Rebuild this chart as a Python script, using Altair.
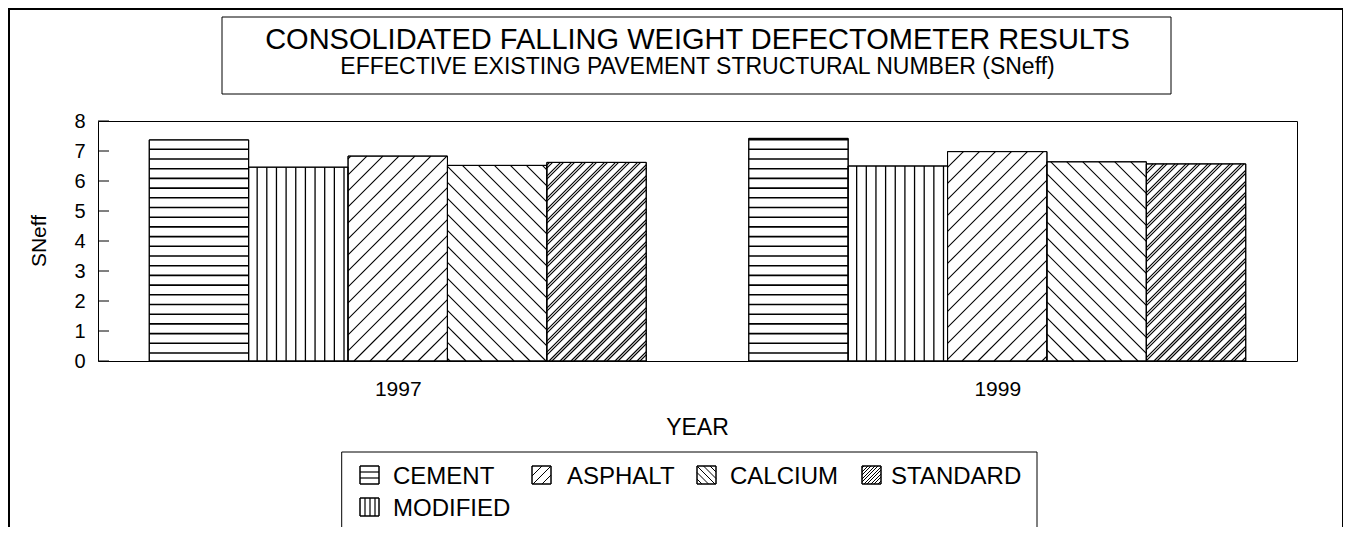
import math
import altair as alt
import pandas as pd

# ---------------- data ----------------
years = ["1997", "1999"]
materials = ["CEMENT", "MODIFIED", "ASPHALT", "CALCIUM", "STANDARD"]
sneff_1997 = [7.37, 6.46, 6.83, 6.52, 6.62]
sneff_1999 = [7.42, 6.50, 6.98, 6.64, 6.57]
y_tick_values = [0, 1, 2, 3, 4, 5, 6, 7, 8]
legend_labels = ["CEMENT", "ASPHALT", "CALCIUM", "STANDARD", "MODIFIED"]
title_text = "CONSOLIDATED FALLING WEIGHT DEFECTOMETER RESULTS"
subtitle_text = "EFFECTIVE EXISTING PAVEMENT STRUCTURAL NUMBER (SNeff)"
x_title = "YEAR"
y_title = "SNeff"

# ---------------- layout ----------------
PLOT_W, PLOT_H = 1199, 240
Y_MAX = 8
X_MAX = len(years)
PXX = PLOT_W / X_MAX
PXY = PLOT_H / Y_MAX
GROUP_W = 0.829
BAR_W = GROUP_W / len(materials)
ORIGIN_X, ORIGIN_Y = 98, 121  # page position of plot area

# pattern: kind, spacing(px), phase(px), stroke width
BAR_PATTERN = {
    "CEMENT": ("h", 9.7, 8.0, 1.6),
    "MODIFIED": ("v", 9.65, 8.5, 1.3),
    "ASPHALT": ("up", 16.0, 0.0, 1.1),
    "CALCIUM": ("down", 16.0, 0.0, 1.1),
    "STANDARD": ("up2", 11.0, 0.0, 1.1),
}
SWATCH_PATTERN = {
    "CEMENT": ("h", 6.0, 6.0, 1.2),
    "MODIFIED": ("v", 5.0, 5.0, 1.2),
    "ASPHALT": ("up", 9.0, 0.0, 1.0),
    "CALCIUM": ("down", 6.5, 0.0, 1.0),
    "STANDARD": ("up2", 7.0, 0.0, 1.0),
}
LEG_SW = [(360, 466), (532, 466), (697, 466), (862, 466), (360, 498)]
LEG_TX = [(393, 483.6), (567, 483.6), (730, 483.6), (891, 483.6), (393, 515.6)]
SW_W, SW_H = 19, 18


def hatch(x0, x1, y0, y1, kind, s, ph):
    segs = []
    if kind == "h":
        t = y0 + ph
        while t < y1 - 0.5:
            segs.append((x0, t, x1, t))
            t += s
    elif kind == "v":
        t = x0 + ph
        while t < x1 - 0.5:
            segs.append((t, y0, t, y1))
            t += s
    elif kind in ("up", "up2"):
        offs = [0.0] if kind == "up" else [0.0, 3.0]
        for o in offs:
            cmin, cmax = x0 - y1, x1 - y0
            c = ph + o + math.ceil((cmin - ph - o) / s) * s
            while c < cmax:
                xs = max(x0, y0 + c)
                xe = min(x1, y1 + c)
                if xe - xs > 0.3:
                    segs.append((xs, xs - c, xe, xe - c))
                c += s
    elif kind == "down":
        cmin, cmax = x0 + y0, x1 + y1
        c = ph + math.ceil((cmin - ph) / s) * s
        while c < cmax:
            xs = max(x0, c - y1)
            xe = min(x1, c - y0)
            if xe - xs > 0.3:
                segs.append((xs, c - xs, xe, c - xe))
            c += s
    return segs


# bars
bar_rows = []
hatch_rows = []
for gi, vals in enumerate([sneff_1997, sneff_1999]):
    center = gi + 0.5
    for i, (mat, v) in enumerate(zip(materials, vals)):
        left = center - GROUP_W / 2 + i * BAR_W
        bar_rows.append({"material": mat, "year": years[gi], "x0": left,
                         "x1": left + BAR_W, "y0": 0.0, "y1": v})
        kind, s, ph, sw = BAR_PATTERN[mat]
        for (xa, ya, xb, yb) in hatch(left * PXX, (left + BAR_W) * PXX, 0.0, v * PXY, kind, s, ph):
            hatch_rows.append({"x0": xa / PXX, "y0": ya / PXY, "x1": xb / PXX, "y1": yb / PXY, "sw": sw})
bars = pd.DataFrame(bar_rows)

# legend swatches / texts (converted into the plot's data units)
sw_rows = []
txt_rows = []
for lab, (sx, sy), (tx, ty) in zip(legend_labels, LEG_SW, LEG_TX):
    X0 = sx - ORIGIN_X
    X1 = X0 + SW_W
    Ytop = PLOT_H - (sy - ORIGIN_Y)
    Ybot = PLOT_H - (sy + SW_H - ORIGIN_Y)
    sw_rows.append({"x0": X0 / PXX, "x1": X1 / PXX, "y0": Ybot / PXY, "y1": Ytop / PXY})
    kind, s, ph, swd = SWATCH_PATTERN[lab]
    for (xa, ya, xb, yb) in hatch(X0, X1, Ybot, Ytop, kind, s, ph):
        hatch_rows.append({"x0": xa / PXX, "y0": ya / PXY, "x1": xb / PXX, "y1": yb / PXY, "sw": swd})
    txt_rows.append({"label": lab, "x": (tx - ORIGIN_X) / PXX, "y": (PLOT_H - (ty - ORIGIN_Y)) / PXY})
swatches = pd.DataFrame(sw_rows)
legend_txt = pd.DataFrame(txt_rows)
hatches = pd.DataFrame(hatch_rows)
ticks = pd.DataFrame({"y": y_tick_values, "x0": 0.0, "x1": 11 / PXX})

X_SCALE = alt.Scale(domain=[0, X_MAX], nice=False, zero=False)
Y_SCALE = alt.Scale(domain=[0, Y_MAX], nice=False, zero=False)
label_expr = f"datum.value < 1 ? '{years[0]}' : '{years[1]}'"

FONT = "Liberation Sans"

X_AXIS = alt.Axis(values=[0.5, 1.5], labelExpr=label_expr, title=None, grid=False,
                  domain=False, ticks=False, tickSize=0, labelFontSize=21,
                  labelPadding=17, labelColor="black", labelFont=FONT)
Y_AXIS = alt.Axis(values=y_tick_values, title=None, grid=False, domain=False,
                  ticks=False, tickSize=0, labelFontSize=20, labelPadding=13,
                  labelColor="black", labelFont=FONT)


def xy(xf, yf):
    return dict(x=alt.X(xf, scale=X_SCALE, axis=X_AXIS),
                y=alt.Y(yf, scale=Y_SCALE, axis=Y_AXIS))


bars_layer = alt.Chart(bars).mark_rect(fill="white", stroke="black", strokeWidth=1).encode(
    **xy("x0:Q", "y0:Q"), x2="x1:Q", y2="y1:Q",
)

swatch_layer = alt.Chart(swatches).mark_rect(fill="white", stroke="black", strokeWidth=1).encode(
    **xy("x0:Q", "y0:Q"), x2="x1:Q", y2="y1:Q",
)

hatch_layer = alt.Chart(hatches).mark_rule(color="black").encode(
    **xy("x0:Q", "y0:Q"), x2="x1:Q", y2="y1:Q",
    strokeWidth=alt.StrokeWidth("sw:Q", scale=None, legend=None),
)

outline_layer = alt.Chart(bars).mark_rect(fillOpacity=0, stroke="black", strokeWidth=1).encode(
    **xy("x0:Q", "y0:Q"), x2="x1:Q", y2="y1:Q",
)
sw_outline = alt.Chart(swatches).mark_rect(fillOpacity=0, stroke="black", strokeWidth=1).encode(
    **xy("x0:Q", "y0:Q"), x2="x1:Q", y2="y1:Q",
)

tick_layer = alt.Chart(ticks).mark_rule(color="black", strokeWidth=1).encode(
    **xy("x0:Q", "y:Q"), x2="x1:Q",
)

one = pd.DataFrame({"k": [0]})


def box(x0, x1, y0, y1, sw):
    return alt.Chart(one).mark_rect(fillOpacity=0, stroke="black", strokeWidth=sw).encode(
        x=alt.value(x0), x2=alt.value(x1), y=alt.value(y0), y2=alt.value(y1))


outer_box = box(-89, 1245, -112, 430, 2)
title_box = box(124, 1073, -104, -27, 1)
legend_box = box(243.7, 939, 331, 409, 1)

title_layer = alt.Chart(pd.DataFrame({"t": [title_text]})).mark_text(
    font=FONT, fontSize=29, align="center", baseline="alphabetic", color="black").encode(
    x=alt.value(PLOT_W / 2), y=alt.value(48.5 - ORIGIN_Y), text="t:N")
subtitle_layer = alt.Chart(pd.DataFrame({"t": [subtitle_text]})).mark_text(
    font=FONT, fontSize=23, align="center", baseline="alphabetic", color="black").encode(
    x=alt.value(PLOT_W / 2), y=alt.value(74 - ORIGIN_Y), text="t:N")
xtitle_layer = alt.Chart(pd.DataFrame({"t": [x_title]})).mark_text(
    font=FONT, fontSize=23, align="center", baseline="alphabetic", color="black").encode(
    x=alt.value(PLOT_W / 2), y=alt.value(314), text="t:N")
ytitle_layer = alt.Chart(pd.DataFrame({"t": [y_title]})).mark_text(
    font=FONT, fontSize=21, align="center", baseline="middle", angle=270, color="black").encode(
    x=alt.value(-58), y=alt.value(PLOT_H / 2), text="t:N")

legend_text_layer = alt.Chart(legend_txt).mark_text(
    font=FONT, fontSize=24, align="left", baseline="alphabetic", color="black").encode(
    **xy("x:Q", "y:Q"), text="label:N",
)

chart = alt.layer(
    bars_layer, swatch_layer, hatch_layer, outline_layer, sw_outline, tick_layer,
    outer_box, title_box, legend_box,
    title_layer, subtitle_layer, xtitle_layer, ytitle_layer, legend_text_layer,
).properties(
    width=PLOT_W, height=PLOT_H,
    padding={"left": 90, "top": 113, "right": 46, "bottom": 166},
    autosize=alt.AutoSizeParams(type="none"),
).configure(font=FONT).configure_view(stroke="black", strokeWidth=1)

chart.save("out.html", embed_options={"renderer": "svg", "actions": False})
